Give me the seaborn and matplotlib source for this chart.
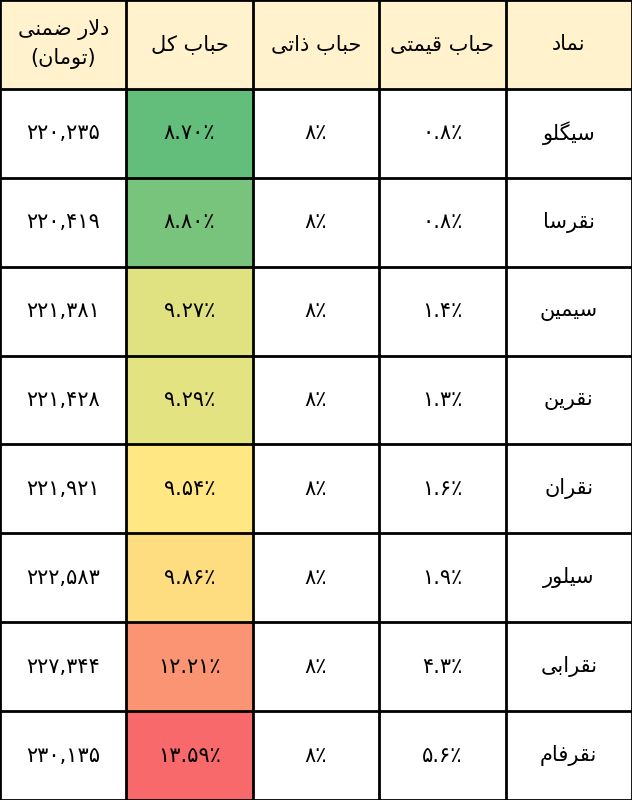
import unicodedata
import numpy as np
import pandas as pd
import seaborn as sns
import matplotlib
matplotlib.use("Agg")
import matplotlib.pyplot as plt
from matplotlib.colors import LinearSegmentedColormap, TwoSlopeNorm
from matplotlib.patches import Rectangle

headers = ["دلار ضمنی\n(تومان)", "حباب کل", "حباب ذاتی", "حباب قیمتی", "نماد"]
symbols = ["سیگلو", "نقرسا", "سیمین", "نقرین", "نقران", "سیلور", "نقرابی", "نقرفام"]
price_bubble = ["۰.۸٪", "۰.۸٪", "۱.۴٪", "۱.۳٪", "۱.۶٪", "۱.۹٪", "۴.۳٪", "۵.۶٪"]
intrinsic_bubble = ["۸٪"] * 8
total_bubble = [8.70, 8.80, 9.27, 9.29, 9.54, 9.86, 12.21, 13.59]
total_labels = ["۸.۷۰٪", "۸.۸۰٪", "۹.۲۷٪", "۹.۲۹٪", "۹.۵۴٪", "۹.۸۶٪", "۱۲.۲۱٪", "۱۳.۵۹٪"]
dollar = ["۲۲۰,۲۳۵", "۲۲۰,۴۱۹", "۲۲۱,۳۸۱", "۲۲۱,۴۲۸", "۲۲۱,۹۲۱", "۲۲۲,۵۸۳", "۲۲۷,۳۴۴", "۲۳۰,۱۳۵"]

RIGHT_ONLY = set("اآأإدذرزژو")
def forms(ch):
    n = unicodedata.name(ch)
    out = {}
    for k, suf in (("iso", " ISOLATED FORM"), ("fin", " FINAL FORM"), ("ini", " INITIAL FORM"), ("med", " MEDIAL FORM")):
        try:
            out[k] = unicodedata.lookup(n + suf)
        except KeyError:
            out[k] = None
    return out

def is_ar(ch):
    return "\u0600" <= ch <= "\u06EF" and ch not in "۰۱۲۳۴۵۶۷۸۹٪"

def shape_word(s):
    res = []
    chars = list(s)
    i = 0
    while i < len(chars):
        c = chars[i]
        if not is_ar(c):
            res.append(c); i += 1; continue
        prev = chars[i-1] if i > 0 else None
        join_prev = prev is not None and is_ar(prev) and prev not in RIGHT_ONLY
        nxt = chars[i+1] if i + 1 < len(chars) else None
        if c == "ل" and nxt == "ا":
            res.append("\uFEFC" if join_prev else "\uFEFB"); i += 2; continue
        join_next = nxt is not None and is_ar(nxt) and c not in RIGHT_ONLY
        f = forms(c)
        if join_prev and join_next:
            g = f["med"] or f["fin"] or c
        elif join_prev:
            g = f["fin"] or c
        elif join_next:
            g = f["ini"] or f["iso"] or c
        else:
            g = f["iso"] or c
        res.append(g); i += 1
    mirror = {"(": ")", ")": "("}
    return "".join(mirror.get(ch, ch) for ch in reversed(res))

def fa(s):
    return "\n".join(shape_word(line) for line in s.split("\n"))

plt.rcParams["font.family"] = ["DejaVu Sans"]
fig = plt.figure(figsize=(6.32, 8.0), dpi=100)
ax = fig.add_axes([0, 0, 1, 1])

nrows = len(symbols) + 1
mat = np.full((nrows, 5), np.nan)
mat[1:, 1] = total_bubble
df = pd.DataFrame(mat)
cmap = LinearSegmentedColormap.from_list("xl", ["#63BE7B", "#FFEB84", "#F8696B"])
norm = TwoSlopeNorm(vmin=min(total_bubble), vcenter=float(np.median(total_bubble)), vmax=max(total_bubble))
ax.set_facecolor("white")
sns.heatmap(df, ax=ax, cmap=cmap, norm=norm, cbar=False, xticklabels=False, yticklabels=False)
ax.add_patch(Rectangle((0, 0), 5, 1, facecolor="#FFF2CC", zorder=0.5))
ax.set_xlim(0, 5); ax.set_ylim(nrows, 0)
for x in range(6):
    ax.axvline(x, color="black", lw=2.0, zorder=3)
for y in range(nrows + 1):
    ax.axhline(y, color="black", lw=2.0, zorder=3)

fs = 15
for j, h in enumerate(headers):
    ax.text(j + 0.5, 0.5, fa(h), ha="center", va="center", fontsize=fs, linespacing=1.5, zorder=4)
for i in range(len(symbols)):
    y = i + 1.5
    ax.text(0.5, y, dollar[i], ha="center", va="center", fontsize=fs, zorder=4)
    ax.text(1.5, y, total_labels[i], ha="center", va="center", fontsize=fs, zorder=4)
    ax.text(2.5, y, intrinsic_bubble[i], ha="center", va="center", fontsize=fs, zorder=4)
    ax.text(3.5, y, price_bubble[i], ha="center", va="center", fontsize=fs, zorder=4)
    ax.text(4.5, y, fa(symbols[i]), ha="center", va="center", fontsize=fs, zorder=4)
ax.axis("off")
fig.savefig("out.png", dpi=100)
